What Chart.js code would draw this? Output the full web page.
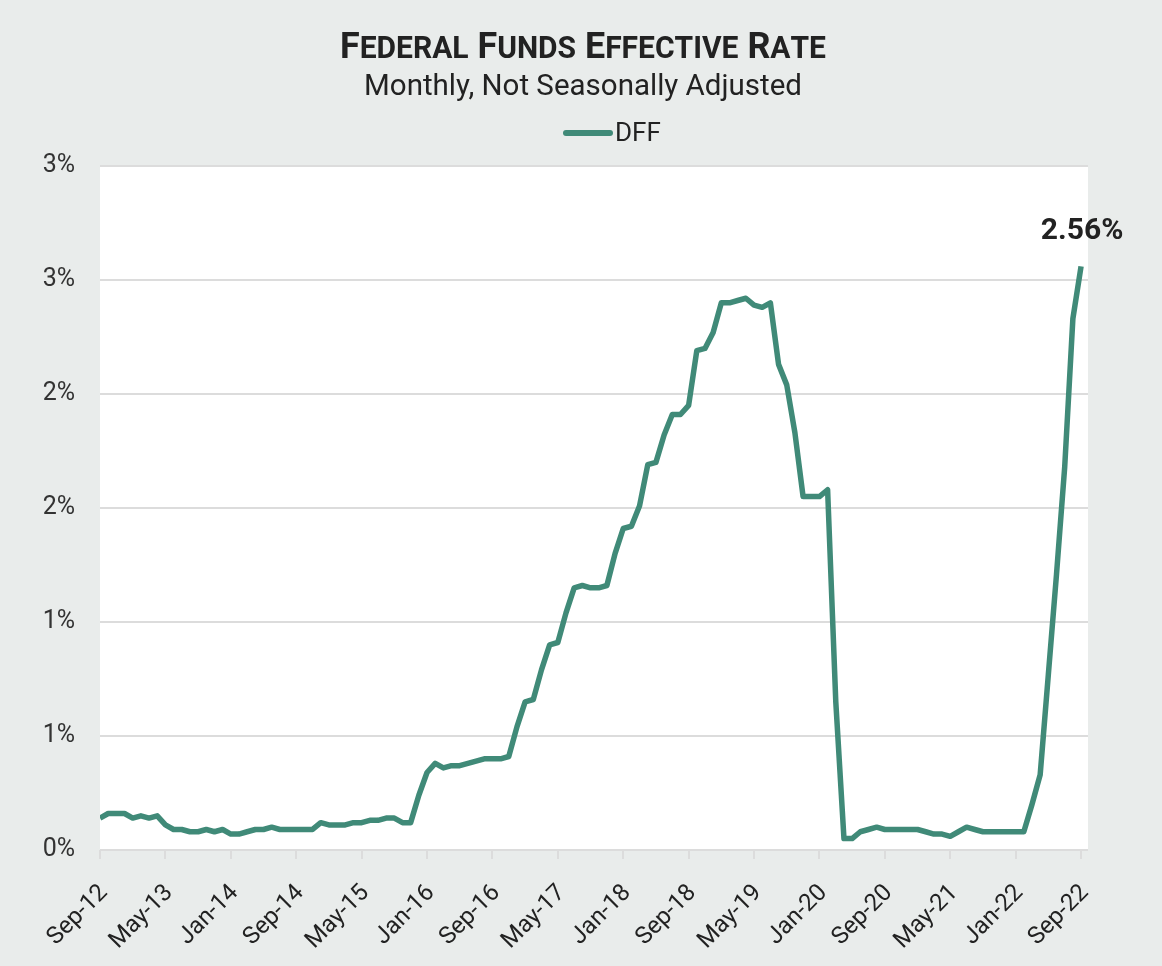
<!DOCTYPE html>
<html>
<head>
<meta charset="utf-8">
<title>Federal Funds Effective Rate</title>
<script src="https://cdn.jsdelivr.net/npm/chart.js@4.4.0/dist/chart.umd.min.js"></script>
<style>
    html, body { margin: 0; padding: 0; background: #e9eceb; }
    #grafico { display: block; }
</style>
</head>
<body>
<canvas id="grafico" width="1162" height="966"></canvas>
<script>
// Rótulos do eixo X (um a cada 8 meses, de Sep-12 até Sep-22)
const rotulosEixo = ['Sep-12', 'May-13', 'Jan-14', 'Sep-14', 'May-15', 'Jan-16', 'Sep-16', 'May-17',
                     'Jan-18', 'Sep-18', 'May-19', 'Jan-20', 'Sep-20', 'May-21', 'Jan-22', 'Sep-22'];
const mesesPorRotulo = 8;

// Taxa efetiva mensal (%), de Sep-12 a Sep-22
const dff = [
    0.14, 0.16, 0.16, 0.16,                                                   // 2012 (set-dez)
    0.14, 0.15, 0.14, 0.15, 0.11, 0.09, 0.09, 0.08, 0.08, 0.09, 0.08, 0.09,   // 2013
    0.07, 0.07, 0.08, 0.09, 0.09, 0.10, 0.09, 0.09, 0.09, 0.09, 0.09, 0.12,   // 2014
    0.11, 0.11, 0.11, 0.12, 0.12, 0.13, 0.13, 0.14, 0.14, 0.12, 0.12, 0.24,   // 2015
    0.34, 0.38, 0.36, 0.37, 0.37, 0.38, 0.39, 0.40, 0.40, 0.40, 0.41, 0.54,   // 2016
    0.65, 0.66, 0.79, 0.90, 0.91, 1.04, 1.15, 1.16, 1.15, 1.15, 1.16, 1.30,   // 2017
    1.41, 1.42, 1.51, 1.69, 1.70, 1.82, 1.91, 1.91, 1.95, 2.19, 2.20, 2.27,   // 2018
    2.40, 2.40, 2.41, 2.42, 2.39, 2.38, 2.40, 2.13, 2.04, 1.83, 1.55, 1.55,   // 2019
    1.55, 1.58, 0.65, 0.05, 0.05, 0.08, 0.09, 0.10, 0.09, 0.09, 0.09, 0.09,   // 2020
    0.09, 0.08, 0.07, 0.07, 0.06, 0.08, 0.10, 0.09, 0.08, 0.08, 0.08, 0.08,   // 2021
    0.08, 0.08, 0.20, 0.33, 0.77, 1.21, 1.68, 2.33, 2.56                      // 2022 (jan-set)
];

// Marcas do eixo Y
const ticksY = [0, 0.5, 1, 1.5, 2, 2.5, 3];

const titulo = 'Federal Funds Effective Rate';
const subtitulo = 'Monthly, Not Seasonally Adjusted';
const nomeSerie = 'DFF';

document.addEventListener('DOMContentLoaded', function() {
    const corLinha = '#408a78';
    const corFundo = '#e9eceb';
    const corGrade = '#dcdcdc';
    const fonte = 'Roboto, "Noto Sans", sans-serif';

    // Pontos {x: índice do mês, y: taxa}
    const pontos = dff.map((v, i) => ({ x: i, y: v }));

    // Fundo cinza e área do gráfico branca
    const fundo = {
        id: 'fundo',
        beforeDraw(chart) {
            const { ctx, chartArea } = chart;
            ctx.save();
            ctx.fillStyle = corFundo;
            ctx.fillRect(0, 0, chart.width, chart.height);
            ctx.fillStyle = '#ffffff';
            ctx.fillRect(chartArea.left, chartArea.top, chartArea.right - chartArea.left, chartArea.bottom - chartArea.top);
            ctx.restore();
        }
    };

    // Título em versalete (maiúsculas grandes + maiúsculas menores)
    function versalete(ctx, texto, cx, base, grande, pequeno, larguraAlvo) {
        const partes = [];
        let largura = 0;
        for (const ch of texto) {
            const alta = ch === ' ' || ch !== ch.toLowerCase();
            const tam = alta ? grande : pequeno;
            ctx.font = 'bold ' + tam + 'px ' + fonte;
            const w = ctx.measureText(ch.toUpperCase()).width;
            partes.push({ t: ch.toUpperCase(), tam: tam, w: w });
            largura += w;
        }
        const escala = larguraAlvo / largura;
        ctx.save();
        ctx.translate(cx - larguraAlvo / 2, base);
        ctx.scale(escala, 1);
        let x = 0;
        partes.forEach(p => {
            ctx.font = 'bold ' + p.tam + 'px ' + fonte;
            ctx.fillText(p.t, x, 0);
            x += p.w;
        });
        ctx.restore();
    }

    // Título, subtítulo e legenda
    const cabecalho = {
        id: 'cabecalho',
        afterDraw(chart) {
            const ctx = chart.ctx;
            const cx = chart.width / 2;
            ctx.save();
            ctx.fillStyle = '#222222';
            ctx.textBaseline = 'alphabetic';
            ctx.textAlign = 'left';
            versalete(ctx, titulo, cx + 2, 58, 37, 31, 486);

            ctx.font = '29.5px ' + fonte;
            ctx.textAlign = 'center';
            ctx.fillText(subtitulo, cx + 2, 95);

            // Legenda
            const ds = chart.data.datasets[0];
            ctx.strokeStyle = ds.borderColor;
            ctx.lineWidth = 6;
            ctx.lineCap = 'round';
            ctx.beginPath();
            ctx.moveTo(566, 133);
            ctx.lineTo(610, 133);
            ctx.stroke();
            ctx.font = '26px ' + fonte;
            ctx.textAlign = 'left';
            ctx.textBaseline = 'middle';
            ctx.fillText(ds.label, 615, 134);
            ctx.restore();
        }
    };

    // Valor do último ponto
    const ultimoValor = {
        id: 'ultimoValor',
        afterDatasetsDraw(chart) {
            const meta = chart.getDatasetMeta(0);
            const ponto = meta.data[meta.data.length - 1];
            const valor = dff[dff.length - 1];
            const ctx = chart.ctx;
            ctx.save();
            ctx.fillStyle = '#222222';
            ctx.font = 'bold 30px ' + fonte;
            ctx.textAlign = 'center';
            ctx.textBaseline = 'middle';
            ctx.fillText(valor.toFixed(2) + '%', ponto.x + 1, ponto.y - 35);
            ctx.restore();
        }
    };

    const ctx = document.getElementById('grafico').getContext('2d');
    new Chart(ctx, {
        type: 'line',
        data: {
            datasets: [{
                label: nomeSerie,
                data: pontos,
                borderColor: corLinha,
                backgroundColor: corLinha,
                borderWidth: 5.5,
                pointRadius: 0,
                tension: 0,
                borderJoinStyle: 'round'
            }]
        },
        options: {
            responsive: false,
            animation: false,
            layout: { padding: { top: 166, left: 40, right: 74, bottom: 0 } },
            plugins: {
                legend: { display: false },
                title: { display: false },
                tooltip: { enabled: false }
            },
            scales: {
                x: {
                    type: 'linear',
                    min: 0,
                    max: 120.85,
                    afterFit(scale) { scale.height = 116; },
                    grid: {
                        drawOnChartArea: false,
                        drawTicks: true,
                        tickLength: 9,
                        color: corGrade,
                        lineWidth: 2
                    },
                    border: { display: false },
                    ticks: {
                        stepSize: mesesPorRotulo,
                        includeBounds: false,
                        autoSkip: false,
                        minRotation: 45,
                        maxRotation: 45,
                        padding: 20,
                        labelOffset: 4,
                        color: '#222222',
                        font: { family: fonte, size: 24 },
                        callback: v => rotulosEixo[v / mesesPorRotulo]
                    }
                },
                y: {
                    min: ticksY[0],
                    max: ticksY[ticksY.length - 1],
                    afterFit(scale) { scale.width = 60; },
                    afterBuildTicks(scale) { scale.ticks = ticksY.map(v => ({ value: v })); },
                    grid: {
                        drawTicks: false,
                        color: corGrade,
                        lineWidth: 2
                    },
                    border: { display: false },
                    ticks: {
                        padding: 25,
                        color: '#333333',
                        font: { family: fonte, size: 25 },
                        callback: v => Math.round(v) + '%'
                    }
                }
            }
        },
        plugins: [fundo, cabecalho, ultimoValor]
    });
});
</script>
</body>
</html>
